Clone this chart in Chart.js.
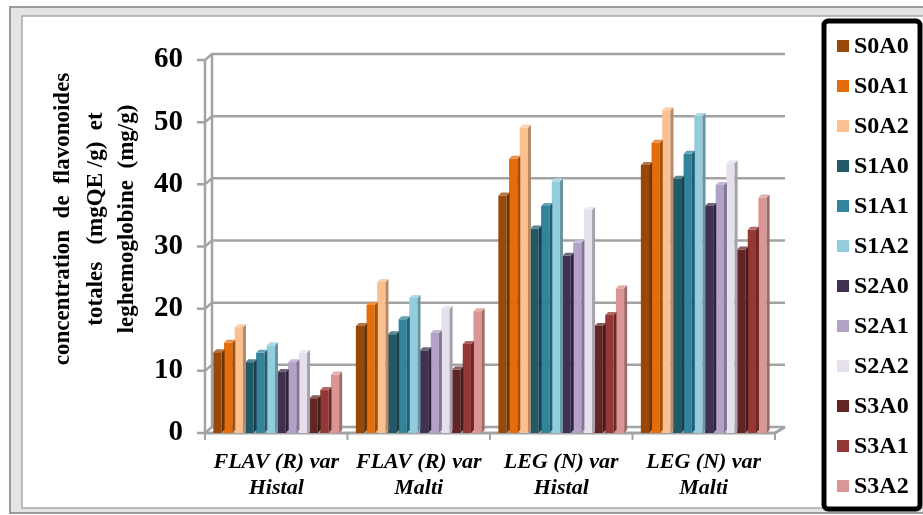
<!DOCTYPE html>
<html>
<head>
<meta charset="utf-8">
<script src="https://cdn.jsdelivr.net/npm/chart.js@4.4.0/dist/chart.umd.min.js"></script>
<style>
    html, body { margin: 0; padding: 0; background: #ffffff; }
    #wrap { position: relative; width: 923px; height: 515px; }
</style>
</head>
<body>
<div id="wrap"><canvas id="chart" width="923" height="515"></canvas></div>
<script>
// categories and series
const categories = [
    ['FLAV (R) var', 'Histal'],
    ['FLAV (R) var', 'Malti'],
    ['LEG (N) var', 'Histal'],
    ['LEG (N) var', 'Malti']
];
const seriesNames = ['S0A0', 'S0A1', 'S0A2', 'S1A0', 'S1A1', 'S1A2', 'S2A0', 'S2A1', 'S2A2', 'S3A0', 'S3A1', 'S3A2'];
const S0A0 = [13.0, 17.2, 38.2, 43.1];
const S0A1 = [14.5, 20.6, 44.1, 46.7];
const S0A2 = [17.0, 24.3, 49.1, 51.9];
const S1A0 = [11.4, 15.9, 32.9, 40.9];
const S1A1 = [12.9, 18.3, 36.5, 44.9];
const S1A2 = [14.1, 21.7, 40.5, 51.0];
const S2A0 = [9.8, 13.3, 28.5, 36.5];
const S2A1 = [11.4, 16.1, 30.6, 39.9];
const S2A2 = [12.9, 20.0, 35.9, 43.4];
const S3A0 = [5.6, 10.2, 17.2, 29.5];
const S3A1 = [6.9, 14.3, 19.0, 32.7];
const S3A2 = [9.4, 19.6, 23.3, 37.9];
const seriesValues = [S0A0, S0A1, S0A2, S1A0, S1A1, S1A2, S2A0, S2A1, S2A2, S3A0, S3A1, S3A2];
const seriesColors = ['#984807', '#e46c0a', '#fac090', '#215968', '#31849b', '#93cddd',
                      '#403152', '#b3a2c7', '#e6e0ec', '#632523', '#953735', '#d99694'];
const yTicks = [0, 10, 20, 30, 40, 50, 60];

const SERIF = '"Liberation Serif", "DejaVu Serif", serif';
const DX = 3, DY = 3;      // fake 3d depth of the bars
const WX = 7, WY = 6;      // depth of the back wall

function shade(hex, f) {
    const n = parseInt(hex.slice(1), 16);
    let r = (n >> 16) & 255, g = (n >> 8) & 255, b = n & 255;
    if (f < 1) { r *= f; g *= f; b *= f; }
    else { const t = f - 1; r += (255 - r) * t; g += (255 - g) * t; b += (255 - b) * t; }
    return 'rgb(' + Math.round(r) + ',' + Math.round(g) + ',' + Math.round(b) + ')';
}

// outer frame of the picture
const framePlugin = {
    id: 'frame',
    beforeDraw(chart) {
        const ctx = chart.ctx;
        ctx.save();
        ctx.fillStyle = '#e4e4e4';
        ctx.fillRect(10, 7, 913, 506);
        ctx.fillStyle = '#ffffff';
        ctx.fillRect(22, 16, 901, 492);
        ctx.strokeStyle = '#9a9a9a';
        ctx.lineWidth = 2;
        ctx.strokeRect(10, 7, 920, 506);
        ctx.lineWidth = 1.5;
        ctx.strokeStyle = '#a8a8a8';
        ctx.strokeRect(22, 16, 910, 492);
        ctx.restore();
    }
};

// walls, gridlines and axis ticks drawn in a pseudo 3d way
const wallPlugin = {
    id: 'walls',
    beforeDatasetsDraw(chart) {
        const ctx = chart.ctx;
        const a = chart.chartArea;
        const y = chart.scales.y;
        ctx.save();
        ctx.strokeStyle = '#a3a3a3';
        ctx.lineWidth = 2.5;
        yTicks.forEach(v => {
            const py = y.getPixelForValue(v);
            ctx.beginPath();
            ctx.moveTo(a.left - 8, py);
            ctx.lineTo(a.left, py);
            ctx.lineTo(a.left + WX, py - WY);
            ctx.lineTo(a.right + WX + 3, py - WY);
            ctx.stroke();
        });
        ctx.beginPath();
        ctx.moveTo(a.left, y.getPixelForValue(60));
        ctx.lineTo(a.left, a.bottom);
        ctx.moveTo(a.left + WX, y.getPixelForValue(60) - WY);
        ctx.lineTo(a.left + WX, a.bottom - WY);
        ctx.stroke();
        ctx.lineWidth = 3;
        ctx.beginPath();
        ctx.moveTo(a.left, a.bottom);
        ctx.lineTo(a.right, a.bottom);
        ctx.lineTo(a.right + WX + 3, a.bottom - WY);
        ctx.stroke();
        ctx.lineWidth = 2;
        for (let i = 0; i <= categories.length; i++) {
            const px = a.left + (a.right - a.left) * i / categories.length;
            ctx.beginPath();
            ctx.moveTo(px, a.bottom);
            ctx.lineTo(px, a.bottom + 7);
            ctx.stroke();
        }
        ctx.restore();
    },
    afterDatasetsDraw(chart) {
        const ctx = chart.ctx;
        ctx.save();
        chart.data.datasets.forEach((ds, di) => {
            const meta = chart.getDatasetMeta(di);
            const base = seriesColors[di];
            meta.data.forEach(bar => {
                const l = bar.x - bar.width / 2, r = bar.x + bar.width / 2;
                ctx.fillStyle = shade(base, 0.72);
                ctx.beginPath();
                ctx.moveTo(r, bar.y);
                ctx.lineTo(r + DX, bar.y - DY);
                ctx.lineTo(r + DX, bar.base - DY);
                ctx.lineTo(r, bar.base);
                ctx.closePath();
                ctx.fill();
                ctx.fillStyle = shade(base, 1.25);
                ctx.beginPath();
                ctx.moveTo(l, bar.y);
                ctx.lineTo(l + DX, bar.y - DY);
                ctx.lineTo(r + DX, bar.y - DY);
                ctx.lineTo(r, bar.y);
                ctx.closePath();
                ctx.fill();
            });
        });
        ctx.restore();
    }
};

// legend box on the right, and the three line y title
const sidePlugin = {
    id: 'side',
    afterDraw(chart) {
        const ctx = chart.ctx;
        ctx.save();
        // legend
        ctx.fillStyle = '#ffffff';
        ctx.beginPath();
        ctx.roundRect(824, 21, 96, 488, 4);
        ctx.fill();
        ctx.lineWidth = 5;
        ctx.strokeStyle = '#000000';
        ctx.stroke();
        ctx.font = 'bold 24px ' + SERIF;
        ctx.textBaseline = 'middle';
        ctx.textAlign = 'left';
        seriesNames.forEach((name, i) => {
            const cy = 46 + i * 40;
            ctx.fillStyle = seriesColors[i];
            ctx.fillRect(837, cy - 6, 12, 12);
            ctx.fillStyle = '#000000';
            ctx.fillText(name, 854, cy + 1);
        });
        // y title
        ctx.translate(96, 219);
        ctx.rotate(-Math.PI / 2);
        ctx.font = 'bold 23px ' + SERIF;
        ctx.textAlign = 'center';
        ctx.fillText('concentration  de  flavonoides', 0, -33);
        ctx.fillText('totales   (mgQE /g)  et', 0, 0);
        ctx.fillText('leghemoglobine  (mg/g)', 0, 31);
        ctx.restore();
    }
};

const datasets = seriesNames.map((name, i) => ({
    label: name,
    data: seriesValues[i],
    backgroundColor: seriesColors[i],
    borderWidth: 0,
    categoryPercentage: 0.9,
    barPercentage: 0.77
}));

new Chart(document.getElementById('chart'), {
    type: 'bar',
    data: { labels: categories, datasets: datasets },
    plugins: [framePlugin, wallPlugin, sidePlugin],
    options: {
        responsive: false,
        animation: false,
        events: [],
        layout: { padding: { left: 0, right: 148, top: 60, bottom: 0 } },
        plugins: { legend: { display: false }, tooltip: { enabled: false } },
        scales: {
            x: {
                grid: { display: false, drawTicks: false },
                border: { display: false },
                ticks: {
                    font: { family: SERIF, size: 22, weight: 'bold', style: 'italic', lineHeight: 1.15 },
                    color: '#000000',
                    padding: 17,
                    maxRotation: 0
                },
                afterFit(scale) { scale.height = 82; }
            },
            y: {
                min: 0,
                max: 60,
                grid: { display: false, drawTicks: false },
                border: { display: false },
                ticks: {
                    stepSize: 10,
                    font: { family: SERIF, size: 29, weight: 'bold' },
                    color: '#000000',
                    padding: 22
                },
                afterFit(scale) { scale.width = 205; }
            }
        }
    }
});
</script>
</body>
</html>
